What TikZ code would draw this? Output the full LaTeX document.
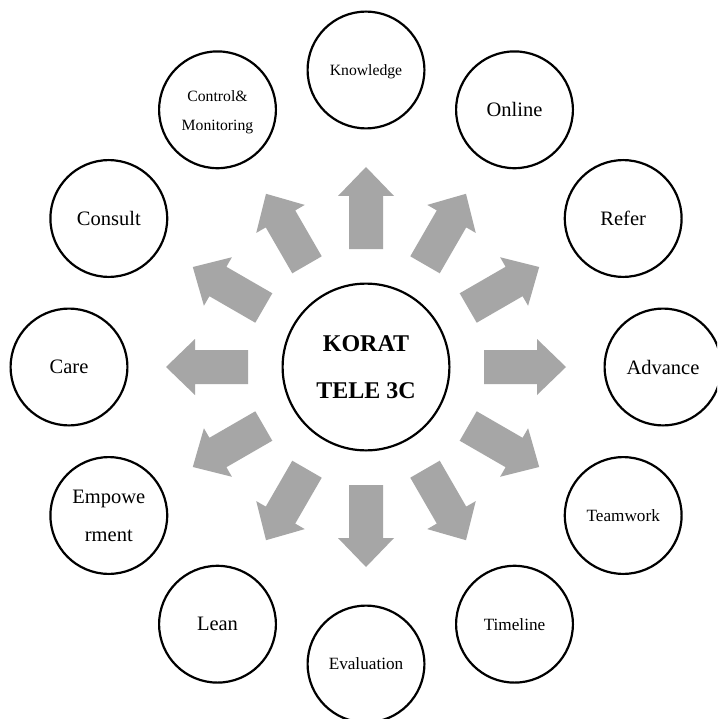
\documentclass[tikz,border=0pt]{standalone}
\usepackage{fontspec}
\setmainfont{Liberation Serif}
\definecolor{arrowgray}{RGB}{166,166,166}
\begin{document}
\begin{tikzpicture}[x=1pt,y=-1pt,
  bubble/.style={circle, draw, line width=2.2pt, minimum size=116.8pt, inner sep=0pt, align=center, font=\fontsize{20.5}{38}\selectfont},
  smalltxt/.style={font=\fontsize{15.7}{29}\selectfont},
  midtxt/.style={font=\fontsize{17.2}{30}\selectfont},
  hub/.style={circle, draw, line width=2.2pt, minimum size=166.8pt, inner sep=0pt, align=center, font=\fontsize{24}{46.7}\selectfont\bfseries},
  blockarrow/.style={fill=arrowgray}]
\clip (0,0) rectangle (717,719);
\fill[white] (0,0) rectangle (717,719);
\node[hub] (hub) at (366,367) {KORAT\\TELE 3C};
\node[bubble, smalltxt, text height=15pt] (knowledge) at (366,70) {Knowledge};
\node[bubble] (online) at (514.5,109.8) {Online};
\node[bubble] (refer) at (623.2,218.5) {Refer};
\node[bubble] (advance) at (663,367) {Advance};
\node[bubble, midtxt] (teamwork) at (623.2,515.5) {Teamwork};
\node[bubble, midtxt] (timeline) at (514.5,624.2) {Timeline};
\node[bubble, midtxt] (evaluation) at (366,664) {Evaluation};
\node[bubble] (lean) at (217.5,624.2) {Lean};
\node[bubble] (empower) at (108.8,515.5) {Empowe\\rment};
\node[bubble] (care) at (69,367) {Care};
\node[bubble] (consult) at (108.8,218.5) {Consult};
\node[bubble] (control) at (217.5,109.8) {};
\node[smalltxt, align=center, inner sep=0pt, yshift=-2.7pt] (controltext) at (control.center) {Control\&\\Monitoring};
\foreach \a in {0,30,...,330}
  \fill[blockarrow, shift={(hub.center)}, rotate=\a]
    (118,-17) -- (171,-17) -- (171,-28) -- (200,0) -- (171,28) -- (171,17) -- (118,17) -- cycle;
\end{tikzpicture}
\end{document}
